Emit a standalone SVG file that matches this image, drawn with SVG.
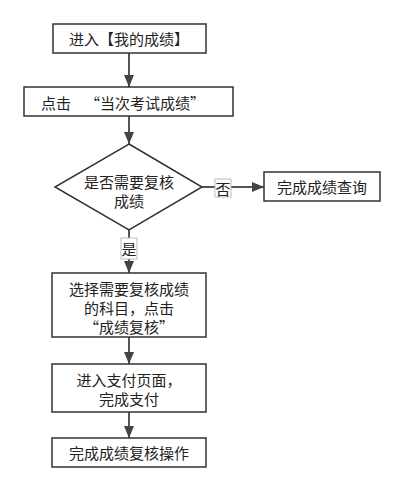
<svg xmlns="http://www.w3.org/2000/svg" width="405" height="492" viewBox="0 0 405 492">
<defs>
<marker id="ah" viewBox="0 0 12 10" refX="12" refY="5" markerWidth="12" markerHeight="10" markerUnits="userSpaceOnUse" orient="auto">
<path d="M0,0 L12,5 L0,10 z" fill="#444"/>
</marker>
<style>
.box{fill:#fff;stroke:#333;stroke-width:1.5}
.t{font-family:"Noto Sans CJK SC","Noto Sans",sans-serif;font-size:15px;fill:#222;text-anchor:middle;dominant-baseline:central}
.ln{stroke:#555;stroke-width:2;fill:none}
.lb{fill:#fff;stroke:#bbb;stroke-width:1}
</style>
</defs>
<rect width="405" height="492" fill="#fff"/>
<g id="connectors">
<line class="ln" x1="129" y1="53" x2="129" y2="87" marker-end="url(#ah)"/>
<line class="ln" x1="129" y1="116" x2="129" y2="144" marker-end="url(#ah)"/>
<line class="ln" x1="202" y1="187" x2="264" y2="187" marker-end="url(#ah)"/>
<line class="ln" x1="129" y1="230" x2="129" y2="273" marker-end="url(#ah)"/>
<line class="ln" x1="129" y1="337" x2="129" y2="364" marker-end="url(#ah)"/>
<line class="ln" x1="129" y1="412" x2="129" y2="438" marker-end="url(#ah)"/>
<g id="label-no">
<rect class="lb" x="215" y="179" width="16" height="18"/>
<text class="t" x="223" y="188">否</text>
</g>
<g id="label-yes">
<rect class="lb" x="121" y="238" width="16" height="21"/>
<text class="t" x="129" y="248.5">是</text>
</g>
</g>
<g id="n1">
<rect class="box" x="53" y="24" width="153" height="29"/>
<text class="t" x="129" y="38.5">进入【我的成绩】</text>
</g>
<g id="n2">
<rect class="box" x="24" y="87" width="209" height="29"/>
<text class="t" x="41" y="102" style="text-anchor:start">点击</text>
<text class="t" x="85" y="102" style="text-anchor:start">“当次考试成绩”</text>
</g>
<g id="n3">
<polygon class="box" points="129,144 202,187 129,230 55,187"/>
<text class="t" x="129" y="181">是否需要复核</text>
<text class="t" x="129" y="200">成绩</text>
</g>
<g id="n4">
<rect class="box" x="264" y="172" width="116" height="29"/>
<text class="t" x="322" y="186.5">完成成绩查询</text>
</g>
<g id="n5">
<rect class="box" x="52" y="273" width="154" height="64"/>
<text class="t" x="129" y="288">选择需要复核成绩</text>
<text class="t" x="129" y="307">的科目，点击</text>
<text class="t" x="129" y="326">“成绩复核”</text>
</g>
<g id="n6">
<rect class="box" x="52" y="364" width="154" height="48"/>
<text class="t" x="129" y="379">进入支付页面，</text>
<text class="t" x="129" y="398">完成支付</text>
</g>
<g id="n7">
<rect class="box" x="52" y="438" width="154" height="29"/>
<text class="t" x="129" y="452.5">完成成绩复核操作</text>
</g>
</svg>
